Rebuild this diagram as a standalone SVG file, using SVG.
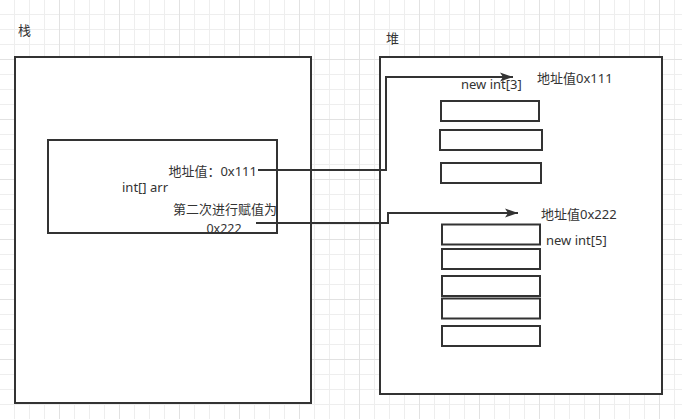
<svg xmlns="http://www.w3.org/2000/svg" width="682" height="419" viewBox="0 0 682 419">
  <defs>
    <pattern id="grid" width="60" height="60" patternUnits="userSpaceOnUse">
      <rect x="14" y="0" width="1" height="60" fill="#eeeeee"/>
      <rect x="29" y="0" width="1" height="60" fill="#eeeeee"/>
      <rect x="44" y="0" width="1" height="60" fill="#eeeeee"/>
      <rect x="0" y="14" width="60" height="1" fill="#eeeeee"/>
      <rect x="0" y="29" width="60" height="1" fill="#eeeeee"/>
      <rect x="0" y="44" width="60" height="1" fill="#eeeeee"/>
      <rect x="59" y="0" width="1" height="60" fill="#e2e2e2"/>
      <rect x="0" y="59" width="60" height="1" fill="#e2e2e2"/>
    </pattern>
    <marker id="arrow" markerUnits="userSpaceOnUse" markerWidth="14" markerHeight="10" refX="13" refY="5" orient="auto">
      <path d="M0,0.5 L13,5 L0,9.5 L3,5 Z" fill="#333333"/>
    </marker>
    <style>
      .box { fill: #ffffff; stroke: #333333; stroke-width: 2; }
      .cell { fill: #ffffff; stroke: #333333; stroke-width: 2; }
      .txt { font-family: "Noto Sans", "Noto Sans CJK SC", sans-serif; font-size: 13px; fill: #333333; }
      .edge { fill: none; stroke: #333333; stroke-width: 2; }
    </style>
  </defs>
  <rect x="0" y="0" width="682" height="419" fill="#ffffff"/>
  <rect x="0" y="0" width="682" height="419" fill="url(#grid)"/>

  <g id="stack">
    <text class="txt" x="18" y="35">栈</text>
    <rect class="box" x="15" y="57" width="296" height="346"/>
  </g>

  <g id="arr-var">
    <rect class="box" x="48" y="140" width="229" height="93"/>
    <text class="txt" x="257" y="176" text-anchor="end">地址值：0x111</text>
    <text class="txt" x="122" y="192">int[] arr</text>
    <text class="txt" x="225" y="214" text-anchor="middle">第二次进行赋值为</text>
    <text class="txt" x="224" y="232.5" text-anchor="middle" style="font-size:12.5px">0x222</text>
  </g>

  <g id="heap">
    <text class="txt" x="386" y="43">堆</text>
    <rect class="box" x="380" y="57" width="282" height="337"/>
  </g>

  <g id="array3">
    <text class="txt" x="461" y="89">new int[3]</text>
    <text class="txt" x="537" y="83">地址值0x111</text>
    <rect class="cell" x="441" y="101" width="98" height="20"/>
    <rect class="cell" x="440" y="130" width="102" height="20"/>
    <rect class="cell" x="441" y="163" width="100" height="20"/>
  </g>

  <g id="array5">
    <text class="txt" x="541" y="219">地址值0x222</text>
    <text class="txt" x="546" y="245">new int[5]</text>
    <rect class="cell" x="442" y="224.5" width="98" height="20"/>
    <rect class="cell" x="442" y="249" width="98" height="20"/>
    <rect class="cell" x="442" y="276" width="98" height="20"/>
    <rect class="cell" x="442" y="298.5" width="98" height="20"/>
    <rect class="cell" x="442" y="326" width="98" height="20"/>
  </g>

  <g id="connectors">
    <path class="edge" d="M258,170 H386 V77 H513" marker-end="url(#arrow)"/>
    <path class="edge" d="M256,223 H388 V213 H518" marker-end="url(#arrow)"/>
  </g>
</svg>
